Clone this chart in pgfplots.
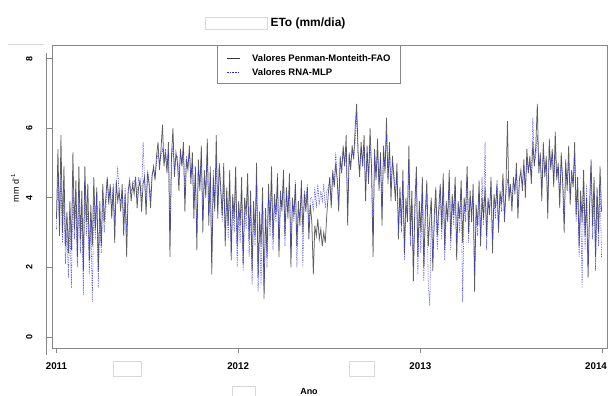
\documentclass[border=0pt]{standalone}
\usepackage{fontspec}
\setmainfont{Liberation Sans}
\usepackage{pgfplots}
\usepackage{pgfplotstable}
\pgfplotsset{compat=1.18}
\definecolor{boxgray}{RGB}{135,135,135}
\definecolor{artgray}{RGB}{215,215,215}
\definecolor{pmcol}{RGB}{55,55,55}
\definecolor{rnacol}{RGB}{40,40,235}
\pgfplotstableread[row sep=\\]{
day pm rna\\
0 3.4 3.1\\ 3 5.4 4.7\\ 6 2.9 3.2\\ 9 5.8 4.6\\ 12 3.0 2.7\\ 15 4.9 4.2\\ 18 2.6 2.1\\ 21 3.6 3.0\\ 24 2.4 1.7\\ 27 3.9 3.3\\ 30 2.5 1.4\\
33 5.3 4.3\\ 36 3.1 2.8\\ 39 4.5 3.9\\ 42 2.3 2.0\\ 45 4.9 4.2\\ 48 2.8 2.4\\ 51 4.2 3.6\\ 54 1.9 1.2\\ 57 4.9 4.5\\ 60 3.3 2.9\\ 63 4.4 3.7\\ 66 2.2 1.8\\ 69 3.8 3.4\\ 72 2.6 1.0\\ 75 4.6 4.0\\ 78 3.1 2.8\\ 81 4.3 4.1\\ 84 1.9 1.4\\ 87 3.9 3.4\\ 90 2.6 2.4\\ 93 4.4 3.9\\ 96 3.3 3.0\\ 99 4.0 3.6\\
102 4.6 4.5\\ 105 3.8 4.0\\ 108 4.4 4.2\\ 111 3.4 3.7\\ 114 4.3 4.4\\ 117 2.7 3.3\\ 120 4.5 4.3\\ 123 3.9 4.9\\ 126 4.2 4.0\\ 129 3.6 3.9\\ 132 4.4 4.2\\ 135 2.9 3.3\\ 138 4.1 4.3\\
141 2.3 3.0\\ 144 4.2 4.1\\ 147 4.5 4.4\\ 150 3.9 4.2\\ 153 4.4 4.3\\ 156 4.1 4.5\\ 159 4.6 4.4\\ 162 3.7 4.0\\ 165 4.3 4.6\\ 168 4.5 4.3\\ 171 3.6 3.9\\ 174 4.4 5.6\\ 177 4.6 4.5\\ 180 3.5 3.9\\ 183 4.7 4.8\\ 186 4.4 4.5\\ 189 3.7 4.0\\ 192 4.6 4.7\\ 195 4.9 4.8\\ 198 4.5 4.6\\
201 5.2 5.0\\ 204 5.6 5.3\\ 207 4.8 5.0\\ 210 5.4 5.2\\ 213 6.1 5.4\\ 216 4.9 5.1\\ 219 5.3 5.4\\ 222 4.7 4.9\\ 225 5.6 5.3\\ 228 2.3 3.0\\ 231 5.2 5.0\\ 234 6.0 5.5\\ 237 4.6 4.8\\ 240 5.3 5.1\\ 243 5.0 5.2\\ 246 4.2 4.6\\ 249 5.4 5.3\\ 252 4.9 5.0\\ 255 5.6 5.4\\ 258 3.6 4.0\\ 261 5.1 5.2\\ 264 4.8 4.9\\ 267 5.5 5.3\\ 270 4.4 4.6\\
273 5.3 5.0\\ 276 3.4 3.8\\ 279 4.9 4.7\\ 282 2.5 3.0\\ 285 5.1 4.8\\ 288 4.2 4.4\\ 291 5.5 5.2\\ 294 3.0 3.4\\ 297 4.8 4.5\\ 300 4.0 4.3\\ 303 5.7 5.3\\ 306 3.2 3.5\\ 309 4.9 4.6\\ 312 1.8 2.3\\ 315 4.6 4.8\\ 318 3.6 3.9\\ 321 5.8 5.0\\ 324 3.4 3.7\\ 327 5.0 4.8\\ 330 4.3 4.1\\
333 3.5 3.3\\ 336 5.0 4.5\\ 339 2.6 2.9\\ 342 4.3 4.0\\ 345 3.2 2.8\\ 348 4.8 4.4\\ 351 2.2 2.5\\ 354 4.1 3.8\\ 357 3.4 3.0\\ 360 4.9 4.6\\ 363 2.6 2.0\\ 366 3.9 3.6\\ 369 3.2 2.7\\ 372 4.6 4.2\\ 375 2.1 1.9\\ 378 4.0 3.6\\ 381 3.5 3.1\\ 384 4.7 4.3\\
387 2.8 2.3\\ 390 4.2 3.8\\ 393 1.9 1.5\\ 396 3.9 3.5\\ 399 2.9 2.6\\ 402 5.0 4.6\\ 405 1.7 1.3\\ 408 3.6 3.2\\ 411 2.6 1.5\\ 414 4.3 3.9\\ 417 1.1 1.3\\ 420 3.7 3.4\\ 423 2.3 2.0\\
426 4.4 4.0\\ 429 3.2 2.9\\ 432 4.9 4.5\\ 435 2.8 2.5\\ 438 4.1 3.8\\ 441 3.5 3.3\\ 444 4.6 4.7\\ 447 2.3 2.6\\ 450 4.2 3.9\\ 453 3.6 3.8\\ 456 4.8 4.5\\ 459 2.9 2.6\\ 462 4.3 4.1\\ 465 3.4 3.6\\ 468 4.7 4.4\\ 471 2.0 2.4\\ 474 4.0 3.8\\ 477 3.5 3.3\\ 480 4.4 4.5\\ 483 2.6 2.0\\ 486 3.9 3.6\\ 489 3.2 3.5\\ 492 4.5 4.3\\ 495 3.0 2.0\\ 498 4.1 4.2\\ 501 3.6 3.9\\ 504 4.3 4.4\\ 507 2.8 3.1\\ 510 3.8 4.0\\
513 3.3 4.0\\ 516 1.8 3.6\\ 519 3.2 4.3\\ 522 2.9 3.7\\ 525 3.4 4.4\\ 528 2.8 3.8\\ 531 3.1 4.2\\ 534 2.6 3.9\\ 537 3.0 4.4\\ 540 2.7 3.7\\ 543 3.5 4.2\\
546 4.1 4.3\\ 549 4.6 4.5\\ 552 3.7 3.9\\ 555 4.8 4.6\\ 558 4.3 4.4\\ 561 5.0 5.3\\ 564 4.5 4.6\\ 567 3.6 3.9\\ 570 5.2 5.0\\ 573 4.7 4.9\\ 576 5.5 5.3\\ 579 4.9 5.0\\ 582 5.8 5.4\\ 585 3.2 3.7\\ 588 5.3 5.1\\ 591 4.8 5.0\\ 594 5.5 5.3\\ 597 5.1 5.2\\ 600 6.0 5.6\\ 603 6.7 6.4\\
606 5.3 5.2\\ 609 4.6 4.8\\ 612 5.6 5.4\\ 615 4.9 5.0\\ 618 5.8 5.5\\ 621 3.9 4.2\\ 624 5.5 5.3\\ 627 4.4 4.6\\ 630 6.0 5.5\\ 633 4.8 4.9\\ 636 2.3 2.9\\ 639 5.4 5.2\\ 642 4.5 4.7\\ 645 5.7 5.3\\ 648 4.2 4.4\\ 651 5.3 5.1\\ 654 3.2 3.6\\ 657 5.5 5.3\\ 660 4.7 4.9\\ 663 6.3 5.8\\ 666 4.4 4.6\\ 669 5.6 5.4\\ 672 3.9 4.3\\ 675 5.2 5.0\\ 678 4.5 4.7\\
681 3.9 4.1\\ 684 5.0 4.7\\ 687 2.8 3.1\\ 690 4.3 4.0\\ 693 3.2 3.0\\ 696 4.8 4.5\\ 699 2.4 2.2\\ 702 4.0 3.7\\ 705 3.3 3.5\\ 708 5.5 5.0\\ 711 2.9 2.6\\ 714 4.2 3.9\\ 717 1.6 2.0\\ 720 3.8 3.5\\ 723 4.9 4.6\\ 726 2.3 1.8\\ 729 3.9 3.7\\ 732 3.0 2.4\\ 735 4.6 4.2\\ 738 2.0 1.6\\ 741 3.6 3.3\\ 744 4.5 4.1\\ 747 2.6 1.5\\ 750 3.4 0.9\\ 753 4.0 3.7\\ 756 1.9 2.3\\ 759 3.5 3.2\\ 762 4.3 4.0\\ 765 2.9 2.5\\ 768 3.7 3.4\\
771 4.4 4.2\\ 774 3.1 2.8\\ 777 4.7 4.4\\ 780 2.5 2.2\\ 783 3.9 3.6\\ 786 3.3 3.5\\ 789 4.8 4.5\\ 792 2.8 2.5\\ 795 4.1 3.9\\ 798 3.5 3.2\\ 801 4.6 4.4\\ 804 2.2 2.6\\ 807 3.9 3.7\\ 810 3.4 3.0\\ 813 4.5 4.3\\ 816 2.7 1.0\\ 819 4.0 3.8\\ 822 3.6 3.3\\ 825 4.9 4.6\\ 828 3.0 2.7\\ 831 4.2 4.0\\ 834 3.3 3.6\\ 837 4.4 4.1\\ 840 1.3 1.9\\ 843 3.8 3.5\\ 846 3.2 2.9\\ 849 4.5 4.2\\ 852 2.6 2.9\\ 855 4.0 4.6\\ 858 3.4 3.2\\ 861 4.3 5.6\\ 864 2.9 2.5\\ 867 4.0 3.8\\ 870 3.5 3.7\\ 873 4.6 4.3\\ 876 2.4 2.8\\ 879 4.1 3.9\\ 882 3.7 3.4\\ 885 4.4 4.5\\ 888 3.0 3.2\\ 891 4.2 4.0\\ 894 3.8 3.6\\ 897 4.7 4.4\\ 900 3.3 3.5\\ 903 4.3 4.1\\ 906 6.2 4.5\\ 909 3.9 4.2\\
912 4.4 4.3\\ 915 3.6 3.9\\ 918 4.6 4.5\\ 921 4.1 4.3\\ 924 5.0 4.7\\ 927 3.4 3.7\\ 930 4.5 4.6\\ 933 4.8 4.6\\ 936 4.2 4.4\\ 939 5.1 4.9\\ 942 4.0 4.3\\ 945 5.4 5.1\\ 948 4.7 4.8\\ 951 5.2 5.0\\ 954 4.4 4.6\\ 957 5.6 6.3\\ 960 4.9 5.0\\
963 5.5 5.2\\ 966 6.7 5.8\\ 969 4.7 4.9\\ 972 5.3 5.1\\ 975 3.9 4.3\\ 978 5.6 5.3\\ 981 4.6 4.8\\ 984 5.2 5.0\\ 987 3.4 3.8\\ 990 5.7 5.4\\ 993 4.8 4.9\\ 996 5.4 5.2\\ 999 4.3 4.5\\ 1002 5.9 5.3\\
1005 4.5 4.7\\ 1008 5.0 4.9\\ 1011 3.7 4.0\\ 1014 5.3 5.1\\ 1017 4.4 4.6\\ 1020 3.0 3.4\\ 1023 5.1 4.8\\ 1026 4.2 4.5\\ 1029 5.5 5.0\\ 1032 3.8 4.1\\ 1035 4.8 4.6\\ 1038 4.3 4.4\\ 1041 5.6 5.2\\
1044 3.5 3.3\\ 1047 4.6 4.3\\ 1050 2.6 2.3\\ 1053 4.2 3.9\\ 1056 3.3 1.4\\ 1059 4.8 4.5\\ 1062 2.9 2.5\\ 1065 4.0 4.4\\ 1068 1.7 2.0\\ 1071 3.8 3.5\\ 1074 5.1 4.9\\ 1077 3.2 2.8\\ 1080 4.6 4.3\\ 1083 2.3 1.9\\ 1086 4.3 4.0\\ 1089 3.0 2.6\\ 1092 4.9 4.5\\ 1095 3.6 2.3\\
}\etodata
\begin{document}
\begin{tikzpicture}
\useasboundingbox (0,0) rectangle (610bp,396bp);
\begin{axis}[
  at={(52bp,48bp)}, anchor=south west,
  scale only axis, width=555bp, height=303bp,
  xmin=-9, xmax=1106, ymin=-0.32, ymax=8.39,
  xtick={0,365,731,1096}, xticklabels={2011,2012,2013,{\hspace*{-12bp}2014}},
  ytick={0,2,4,6,8}, yticklabels={0,2,4,6,8},
  xtick pos=left, ytick pos=left,
  tick align=outside, major tick length=5bp,
  tick style={boxgray, line width=0.6bp},
  axis line style={boxgray, line width=0.8bp},
  xticklabel style={font=\bfseries\fontsize{9.8}{12}\selectfont, yshift=-6bp},
  yticklabel style={font=\bfseries\fontsize{9}{11}\selectfont, xshift=-11bp, rotate=90, anchor=south},
]
\addplot[pmcol, line width=0.75bp, opacity=0.8] table[x=day,y=pm]{\etodata};
\addplot[rnacol, line width=0.55bp, dash pattern=on 1.3bp off 1.1bp, opacity=0.8] table[x=day,y=rna]{\etodata};
\end{axis}
% separate y axis line
\draw[boxgray, line width=0.8bp] (46bp,343bp) -- (46bp,41bp);
% light artefacts
\draw[artgray, line width=0.6bp] (8bp,352bp) -- (44bp,352bp);
\draw[artgray, fill=white, line width=0.6bp] (205bp,379bp) rectangle (267bp,367bp);
\draw[artgray, fill=white, line width=0.6bp] (113bp,35bp) rectangle (141bp,20bp);
\draw[artgray, fill=white, line width=0.6bp] (349bp,35bp) rectangle (374bp,20bp);
\draw[artgray, fill=white, line width=0.6bp] (232bp,10bp) rectangle (255bp,-2bp);
% title
\node[font=\bfseries\fontsize{12}{14}\selectfont, inner sep=0] at (308bp,373bp) {ETo (mm/dia)};
% axis labels
\node[font=\fontsize{9}{11}\selectfont, rotate=90, inner sep=0] at (15bp,208bp) {mm d\textsuperscript{-1}};
\node[font=\bfseries\fontsize{9}{11}\selectfont, inner sep=0] at (309bp,4.5bp) {Ano};
% legend
\draw[boxgray, fill=white, line width=0.8bp] (217bp,351bp) rectangle (400bp,313bp);
\draw[pmcol, line width=0.9bp] (227bp,338bp) -- (240bp,338bp);
\draw[rnacol, line width=0.7bp, dash pattern=on 1.5bp off 1.2bp] (227bp,324bp) -- (240bp,324bp);
\node[font=\bfseries\fontsize{9.5}{11}\selectfont, anchor=west, inner sep=0] at (252bp,338bp) {Valores Penman-Monteith-FAO};
\node[font=\bfseries\fontsize{9.5}{11}\selectfont, anchor=west, inner sep=0] at (252bp,324bp) {Valores RNA-MLP};
\end{tikzpicture}
\end{document}
